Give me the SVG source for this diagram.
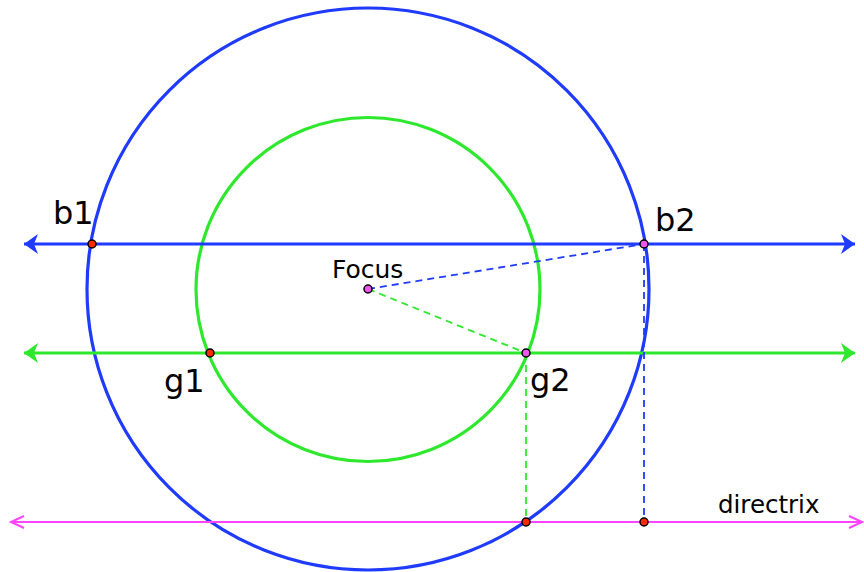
<svg xmlns="http://www.w3.org/2000/svg" width="864" height="572" viewBox="0 0 864 572">
<style>
.blue{stroke:#1f3bff;fill:none;stroke-width:3.2}
.green{stroke:#2ee82e;fill:none;stroke-width:3.2}
.mag{stroke:#ff44ff;fill:none;stroke-width:2}
.dash{stroke-width:1.8;stroke-dasharray:7 5}
.pt{stroke:#000;stroke-width:1.5}
.red{fill:#ff2a00}
.pink{fill:#ee55ee}
text{font-family:"DejaVu Sans",sans-serif;fill:#000}
</style>
<defs>
<marker id="ab" markerUnits="userSpaceOnUse" markerWidth="16" markerHeight="22" viewBox="0 0 16 22" refX="14" refY="11" orient="auto-start-reverse"><path d="M0,1 L14,11 L0,21 L4,11 Z" fill="#1f3bff"/></marker>
<marker id="ag" markerUnits="userSpaceOnUse" markerWidth="16" markerHeight="22" viewBox="0 0 16 22" refX="14" refY="11" orient="auto-start-reverse"><path d="M0,1 L14,11 L0,21 L4,11 Z" fill="#2ee82e"/></marker>
<marker id="am" markerUnits="userSpaceOnUse" markerWidth="18" markerHeight="18" viewBox="0 0 18 18" refX="15" refY="9" orient="auto-start-reverse"><path d="M2,3 L15,9 L2,15" fill="none" stroke="#ff44ff" stroke-width="2"/></marker>
</defs>
<g id="circles">
<circle id="blue-circle" class="blue" cx="368" cy="289" r="281"/>
<circle id="green-circle" class="green" cx="368" cy="289.5" r="172"/>
</g>
<g id="connectors">
<line class="blue" x1="24" y1="244" x2="855" y2="244" marker-start="url(#ab)" marker-end="url(#ab)"/>
<line class="green" x1="24" y1="353" x2="855" y2="353" marker-start="url(#ag)" marker-end="url(#ag)"/>
<line class="mag" x1="11" y1="522" x2="862" y2="522" marker-start="url(#am)" marker-end="url(#am)"/>
<line class="blue dash" x1="368" y1="289" x2="644" y2="244"/>
<line class="blue dash" x1="644" y1="244" x2="644" y2="522"/>
<line class="green dash" x1="368" y1="289" x2="526" y2="353"/>
<line class="green dash" x1="526" y1="353" x2="526" y2="522"/>
</g>
<g id="b1"><circle class="pt red" cx="92" cy="244" r="4"/><text x="53" y="224" font-size="32">b1</text></g>
<g id="b2"><circle class="pt pink" cx="644" cy="244" r="4"/><text x="655" y="231" font-size="32">b2</text></g>
<g id="focus"><circle class="pt pink" cx="368" cy="289" r="4"/><text x="332" y="278" font-size="25">Focus</text></g>
<g id="g1"><circle class="pt red" cx="210" cy="353" r="4"/><text x="164" y="392" font-size="32">g1</text></g>
<g id="g2"><circle class="pt pink" cx="526" cy="353" r="4"/><text x="530" y="391" font-size="32">g2</text></g>
<g id="d1"><circle class="pt red" cx="526" cy="522" r="4"/></g>
<g id="d2"><circle class="pt red" cx="644" cy="522" r="4"/></g>
<g id="directrix"><text x="718" y="513" font-size="24.5">directrix</text></g>
</svg>
